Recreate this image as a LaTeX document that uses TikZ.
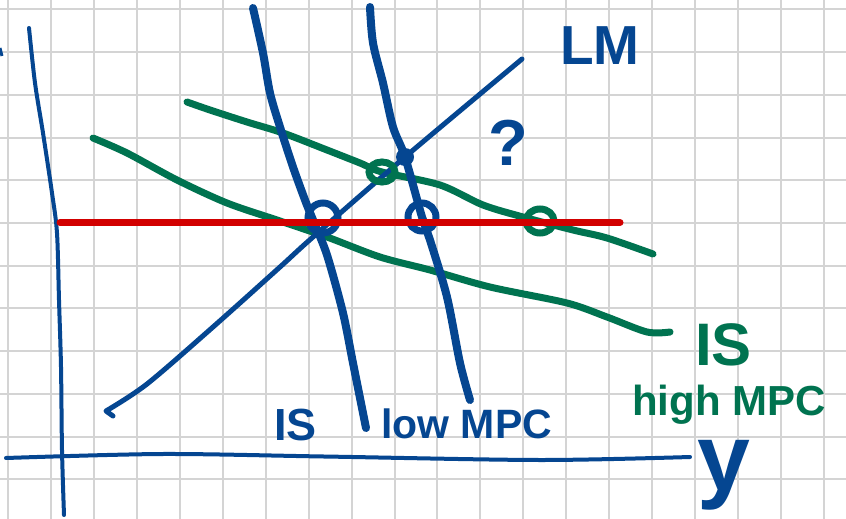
\documentclass[tikz,border=0pt]{standalone}
\usepackage{fontspec}
\setmainfont{Liberation Sans}
\usetikzlibrary{positioning}
\definecolor{inkblue}{RGB}{5,70,145}
\definecolor{inkgreen}{RGB}{0,115,80}
\definecolor{inkred}{RGB}{210,0,0}
\definecolor{gridgray}{RGB}{212,212,212}
\tikzset{grd/.style={draw=gridgray,line width=2pt},
 ax/.style={draw=inkblue,line width=4pt,line cap=round},
 isc/.style={draw=inkblue,line width=8pt,line cap=round,line join=round},
 lmc/.style={draw=inkblue,line width=5pt,line cap=round,line join=round},
 gis/.style={draw=inkgreen,line width=7pt,line cap=round,line join=round},
 rate/.style={draw=inkred,line width=7pt,line cap=round},
 bring/.style={draw=inkblue,line width=7pt},
 gring/.style={draw=inkgreen,line width=7pt},
 hand/.style={inner sep=0pt,anchor=base west}}
\begin{document}
\begin{tikzpicture}[x=1pt,y=-1pt]
\useasboundingbox(0,0)rectangle(846,519);
\fill[white](0,0)rectangle(846,519);
% grid paper
\foreach \k in {0,...,19}{\draw[grd](8.4+42.9*\k,0)--(8.4+42.9*\k,519);}
\foreach \k in {0,...,11}{\draw[grd](0,9.5+42.7*\k)--(846,9.5+42.7*\k);}
% axes
\draw[ax]plot[smooth]coordinates{(29,28)(35,83)(43,133)(52,193)(57,233)(59,300)(61,367)(62,450)(64,515)};
\draw[ax]plot[smooth]coordinates{(6,458)(162,454)(324,456.5)(540,460)(690,457)};
\draw[inkblue,line width=3pt](0,48)--(2,56);
% equilibrium points
\coordinate(e0)at(323,218);\coordinate(e1)at(422,217);
\coordinate(q0)at(382,172);\coordinate(q1)at(540,221);
\coordinate(lmq)at(405,157);
% IS high MPC
\draw[gis]plot[smooth]coordinates{(187,102)(210,110)(247,122)(283,133)(327,150)(360,163)(382,172)(440,185)(483,205)(523,217)(573,230)(607,238)(653,254)};
\draw[gis]plot[smooth]coordinates{(93,138)(127,153)(177,180)(227,203)(277,220)(327,237)(380,257)(430,270)(490,287)(567,303)(607,317)(647,332)(670,332)};
% IS low MPC
\draw[isc]plot[smooth]coordinates{(253,8)(263,53)(270,93)(280,127)(293,167)(305,200)(313,220)(327,255)(343,313)(353,363)(366,428)};
\draw[isc]plot[smooth]coordinates{(370,7)(373,43)(383,83)(393,127)(405,157)(422,217)(430,240)(447,297)(460,363)(470,400)};
% LM
\draw[lmc](113,416)--plot[smooth]coordinates{(106,411)(147,384)(213,327)(280,267)(313,237)(lmq)(522,59)};
% marks
\fill[inkblue](lmq)circle(9);
\draw[bring](e0)circle(15);\draw[bring](e1)circle(14);
\draw[gring](q0)ellipse(13 and 10);\draw[gring](q1)ellipse(14 and 12);
\draw[rate](60,222.5)--(620,222.5);
% labels
\node[hand,text=inkblue,font=\bfseries\fontsize{55}{55}\selectfont](lmlbl)at(560,65){LM};
\node[hand,text=inkblue,font=\bfseries\fontsize{65}{65}\selectfont](qlbl)at(488,165){?};
\node[hand,text=inkblue,font=\bfseries\fontsize{45}{45}\selectfont](islo)at(274,440){IS};
\node[hand,text=inkblue,font=\bfseries\fontsize{41}{41}\selectfont](mpclo)at(381,438){low MPC};
\node[hand,text=inkgreen,font=\bfseries\fontsize{60}{60}\selectfont](ishi)at(695,365){IS};
\node[hand,text=inkgreen,font=\bfseries\fontsize{42}{42}\selectfont](mpchi)at(632,415){high MPC};
\node[hand,text=inkblue,font=\bfseries\fontsize{95}{95}\selectfont](ylbl)at(697,490){y};
\end{tikzpicture}
\end{document}
